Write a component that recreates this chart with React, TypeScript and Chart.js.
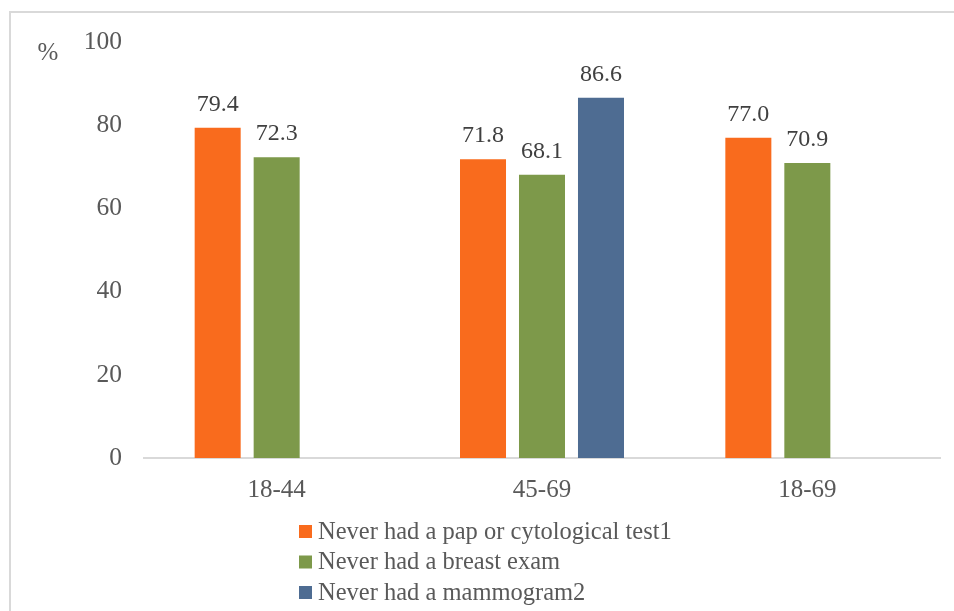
import React, { useEffect, useRef } from "react";
import { Chart, registerables } from "chart.js";

Chart.register(...registerables);

const categories = ["18-44", "45-69", "18-69"];
const papTest = [79.4, 71.8, 77.0];
const breastExam = [72.3, 68.1, 70.9];
const mammogram = [null, 86.6, null];
const seriesNames = [
  "Never had a pap or cytological test1",
  "Never had a breast exam",
  "Never had a mammogram2",
];
const seriesColors = ["#F96B1D", "#7D994A", "#4E6C92"];
const yTicks = [0, 20, 40, 60, 80, 100];

const SERIF = "'Liberation Serif', 'Times New Roman', serif";

// Frame lines, the "%" unit label, value labels and the stacked legend
const decorations = {
  id: "decorations",
  beforeDraw(chart: any) {
    const ctx = chart.ctx;
    ctx.save();
    ctx.strokeStyle = "#D9D9D9";
    ctx.lineWidth = 2;
    ctx.beginPath();
    ctx.moveTo(10, 611);
    ctx.lineTo(10, 12);
    ctx.lineTo(954, 12);
    ctx.stroke();
    ctx.restore();
  },
  afterDatasetsDraw(chart: any) {
    const ctx = chart.ctx;
    ctx.save();
    ctx.fillStyle = "#595959";
    ctx.font = `25px ${SERIF}`;
    ctx.textAlign = "center";
    ctx.textBaseline = "middle";
    ctx.fillText("%", 48, 53);

    // values above bars
    ctx.fillStyle = "#404040";
    ctx.font = `24px ${SERIF}`;
    ctx.textBaseline = "alphabetic";
    chart.data.datasets.forEach((ds: any, di: number) => {
      const meta = chart.getDatasetMeta(di);
      meta.data.forEach((bar: any, i: number) => {
        const v = ds.data[i];
        if (v === null || v === undefined) return;
        ctx.fillText(Number(v).toFixed(1), bar.x, bar.y - 17);
      });
    });

    // legend, one entry per line
    ctx.font = `24.5px ${SERIF}`;
    ctx.textAlign = "left";
    ctx.textBaseline = "middle";
    chart.data.datasets.forEach((ds: any, di: number) => {
      const cy = 531.5 + di * 30.5;
      ctx.fillStyle = ds.backgroundColor;
      ctx.fillRect(299, cy - 6.5, 13, 13);
      ctx.fillStyle = "#595959";
      ctx.fillText(ds.label, 318, cy + 1);
    });
    ctx.restore();
  },
};

export default function App() {
  const canvasRef = useRef<HTMLCanvasElement>(null);

  useEffect(() => {
    const canvas = canvasRef.current;
    if (!canvas) return;
    const data = [papTest, breastExam, mammogram];
    const chart = new Chart(canvas, {
      type: "bar",
      data: {
        labels: categories,
        datasets: data.map((values, i) => ({
          label: seriesNames[i],
          data: values as any,
          backgroundColor: seriesColors[i],
          borderWidth: 0,
          categoryPercentage: 0.667,
          barPercentage: 0.78,
        })),
      },
      options: {
        responsive: false,
        animation: false,
        devicePixelRatio: 1,
        layout: { padding: { top: 42, right: 14, left: 0, bottom: 0 } },
        plugins: {
          legend: { display: false },
          tooltip: { enabled: false },
        },
        scales: {
          x: {
            grid: { display: false, drawTicks: false },
            border: { display: true, color: "#D9D9D9", width: 2 },
            ticks: {
              color: "#595959",
              font: { family: SERIF, size: 25 },
              padding: 17,
            },
            afterFit(scale: any) {
              scale.height = 611 - 458;
            },
          },
          y: {
            min: 0,
            max: 100,
            grid: { display: false, drawTicks: false },
            border: { display: false },
            afterBuildTicks(scale: any) {
              scale.ticks = yTicks.map((v) => ({ value: v }));
            },
            ticks: {
              color: "#595959",
              font: { family: SERIF, size: 25.5 },
              padding: 22,
            },
            afterFit(scale: any) {
              scale.width = 144;
            },
          },
        },
      },
      plugins: [decorations],
    });
    return () => chart.destroy();
  }, []);

  return (
    <div style={{ position: "absolute", left: 0, top: 0, width: 954, height: 611, background: "#fff" }}>
      <canvas ref={canvasRef} width={954} height={611} style={{ display: "block" }} />
    </div>
  );
}
